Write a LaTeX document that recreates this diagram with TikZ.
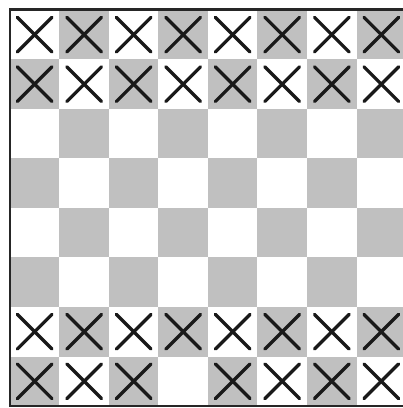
\documentclass[tikz,border=0pt]{standalone}
\usepackage{tikz}
\usetikzlibrary{calc}
\definecolor{boardgray}{RGB}{192,192,192}

\begin{document}
\begin{tikzpicture}[
    sq/.style={
        rectangle, draw=none, fill=#1,
        minimum size=1cm, inner sep=0pt, outer sep=0pt
    },
    light/.style={sq=white},
    dark/.style={sq=boardgray},
    cross/.style={line width=1.9pt, line cap=round, black!90},
    frame/.style={line width=1.6pt, black!85},
]
\useasboundingbox (-0.2,-0.04) rectangle (7.92,8.2);

% Squares
\foreach \r in {1,...,8} {
    \foreach \c in {1,...,8} {
        \pgfmathtruncatemacro{\parity}{mod(\r+\c,2)}
        \ifnum\parity=0
            \node[light] (sq-\r-\c) at (\c-0.5, 8.5-\r) {};
        \else
            \node[dark] (sq-\r-\c) at (\c-0.5, 8.5-\r) {};
        \fi
    }
}

% Crosses
\foreach \r in {1,2,7} {
    \foreach \c in {1,...,8} {
        \draw[cross] ($(sq-\r-\c.north west)!0.15!(sq-\r-\c.south east)$) -- ($(sq-\r-\c.north west)!0.85!(sq-\r-\c.south east)$);
        \draw[cross] ($(sq-\r-\c.north east)!0.15!(sq-\r-\c.south west)$) -- ($(sq-\r-\c.north east)!0.85!(sq-\r-\c.south west)$);
    }
}
\foreach \c in {1,2,3,5,6,7,8} {
    \draw[cross] ($(sq-8-\c.north west)!0.15!(sq-8-\c.south east)$) -- ($(sq-8-\c.north west)!0.85!(sq-8-\c.south east)$);
    \draw[cross] ($(sq-8-\c.north east)!0.15!(sq-8-\c.south west)$) -- ($(sq-8-\c.north east)!0.85!(sq-8-\c.south west)$);
}

% Frame
\draw[frame] (sq-1-1.north west) rectangle (sq-8-8.south east);
\end{tikzpicture}
\end{document}
